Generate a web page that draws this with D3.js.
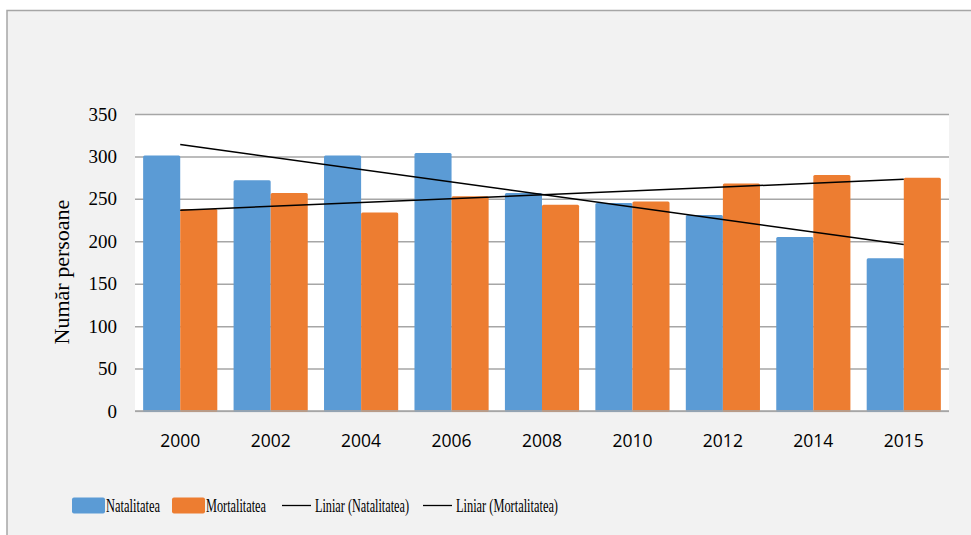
<!DOCTYPE html>
<html>
<head>
<meta charset="utf-8">
<script src="https://cdn.jsdelivr.net/npm/d3@7"></script>
<style>
  html, body { margin: 0; padding: 0; background: #fff; overflow: hidden; }
  svg { display: block; }
</style>
</head>
<body>
<div id="chart"></div>
<script>
// data
var years = ['2000', '2002', '2004', '2006', '2008', '2010', '2012', '2014', '2015'];
var natalitatea = [301, 272, 301, 304, 257, 245, 231, 205, 180];
var mortalitatea = [238, 257, 234, 253, 243, 247, 268, 278, 275];
var yTicks = [0, 50, 100, 150, 200, 250, 300, 350];
var seriesNames = ['Natalitatea', 'Mortalitatea'];
var trendNames = ['Liniar (Natalitatea)', 'Liniar (Mortalitatea)'];

var W = 971, H = 535;
var plot = { left: 135, right: 949, top: 114, bottom: 411 };
var SERIF = '"Times New Roman", "Liberation Serif", Tinos, "DejaVu Serif", serif';
var SANS = '"Open Sans", sans-serif';

var svg = d3.select('#chart').append('svg')
  .attr('width', W)
  .attr('height', H);

// outer panel: runs off the right and bottom edges, only top/left border show
svg.append('rect')
  .attr('x', 7).attr('y', 10.5)
  .attr('width', W - 7).attr('height', H - 10.5)
  .attr('fill', '#f2f2f2');
svg.append('path')
  .attr('d', 'M7,' + H + 'V10.5H' + W)
  .attr('fill', 'none')
  .attr('stroke', '#a6a6a6')
  .attr('stroke-width', 1.5);

// plot area
svg.append('rect')
  .attr('x', plot.left).attr('y', plot.top)
  .attr('width', plot.right - plot.left).attr('height', plot.bottom - plot.top + 2)
  .attr('fill', '#fff');

var x0 = d3.scaleBand()
  .domain(years)
  .range([plot.left, plot.right])
  .paddingInner(0.18)
  .paddingOuter(0.09);

var x1 = d3.scaleBand()
  .domain(seriesNames)
  .range([0, x0.bandwidth()]);

var y = d3.scaleLinear()
  .domain([0, 350])
  .range([plot.bottom, plot.top]);

var colors = { Natalitatea: '#5b9bd5', Mortalitatea: '#ed7d31' };

// gridlines + y labels
var yAxis = d3.axisLeft(y)
  .tickValues(yTicks)
  .tickSize(-(plot.right - plot.left))
  .tickPadding(18)
  .tickFormat(d3.format('d'));

var gy = svg.append('g')
  .attr('transform', 'translate(' + plot.left + ',0)')
  .call(yAxis);
gy.attr('font-family', null).attr('font-size', null)
  .style('font-family', SERIF)
  .style('font-size', '19px');
gy.select('.domain').remove();
gy.selectAll('.tick line')
  .attr('stroke', '#a6a6a6')
  .attr('stroke-width', 1.5);
gy.selectAll('.tick text')
  .attr('fill', '#000');

// bars
var rows = years.map(function(yr, i) {
  return { year: yr, values: [
    { name: 'Natalitatea', value: natalitatea[i] },
    { name: 'Mortalitatea', value: mortalitatea[i] }
  ] };
});

var groups = svg.append('g').selectAll('g')
  .data(rows)
  .join('g')
  .attr('transform', function(d) { return 'translate(' + x0(d.year) + ',0)'; });

groups.selectAll('rect')
  .data(function(d) { return d.values; })
  .join('rect')
  .attr('x', function(d) { return x1(d.name); })
  .attr('y', function(d) { return y(d.value); })
  .attr('width', x1.bandwidth())
  .attr('height', function(d) { return y(0) - y(d.value) + 1; })
  .attr('rx', 1.5)
  .attr('fill', function(d) { return colors[d.name]; });

// x axis line
svg.append('line')
  .attr('x1', plot.left).attr('x2', plot.right)
  .attr('y1', plot.bottom).attr('y2', plot.bottom)
  .attr('stroke', '#a6a6a6')
  .attr('stroke-width', 1.5);

// x labels
svg.append('g')
  .style('font-family', SANS)
  .style('font-size', '17.5px')
  .selectAll('text')
  .data(years)
  .join('text')
  .attr('x', function(d) { return x0(d) + x0.bandwidth() / 2; })
  .attr('y', 447)
  .attr('text-anchor', 'middle')
  .attr('fill', '#000')
  .text(function(d) { return d; });

// linear trend lines (least squares over category index)
function trend(vals) {
  var n = vals.length;
  var xs = d3.range(1, n + 1);
  var mx = d3.mean(xs), my = d3.mean(vals);
  var sxy = d3.sum(xs, function(xv, i) { return (xv - mx) * (vals[i] - my); });
  var sxx = d3.sum(xs, function(xv) { return (xv - mx) * (xv - mx); });
  var b = sxy / sxx, a = my - b * mx;
  return xs.map(function(xv, i) { return { year: years[i], value: a + b * xv }; });
}

var line = d3.line()
  .x(function(d) { return x0(d.year) + x0.bandwidth() / 2; })
  .y(function(d) { return y(d.value); });

[natalitatea, mortalitatea].forEach(function(vals) {
  var t = trend(vals);
  svg.append('path')
    .datum([t[0], t[t.length - 1]])
    .attr('d', line)
    .attr('fill', 'none')
    .attr('stroke', '#000')
    .attr('stroke-width', 1.5);
});

// y axis title
svg.append('text')
  .attr('transform', 'translate(69,272) rotate(-90)')
  .attr('text-anchor', 'middle')
  .style('font-family', SERIF)
  .style('font-size', '22px')
  .attr('fill', '#000')
  .text('Număr persoane');

// legend (text in the reference is horizontally condensed)
var legend = svg.append('g')
  .style('font-family', SERIF)
  .style('font-size', '19px');
var legendItems = [
  { type: 'box', name: seriesNames[0], x: 72, w: 54, color: colors.Natalitatea },
  { type: 'box', name: seriesNames[1], x: 172, w: 60, color: colors.Mortalitatea },
  { type: 'line', name: trendNames[0], x: 282, w: 94 },
  { type: 'line', name: trendNames[1], x: 423, w: 102 }
];
legendItems.forEach(function(it) {
  if (it.type === 'box') {
    legend.append('rect')
      .attr('x', it.x).attr('y', 497.5)
      .attr('width', 33).attr('height', 16)
      .attr('rx', 2)
      .attr('fill', it.color);
  } else {
    legend.append('line')
      .attr('x1', it.x).attr('x2', it.x + 29)
      .attr('y1', 505.5).attr('y2', 505.5)
      .attr('stroke', '#000')
      .attr('stroke-width', 1.3);
  }
  legend.append('text')
    .attr('x', it.x + (it.type === 'box' ? 34 : 33))
    .attr('y', 512)
    .attr('textLength', it.w)
    .attr('lengthAdjust', 'spacingAndGlyphs')
    .attr('fill', '#000')
    .text(it.name);
});
</script>
</body>
</html>
